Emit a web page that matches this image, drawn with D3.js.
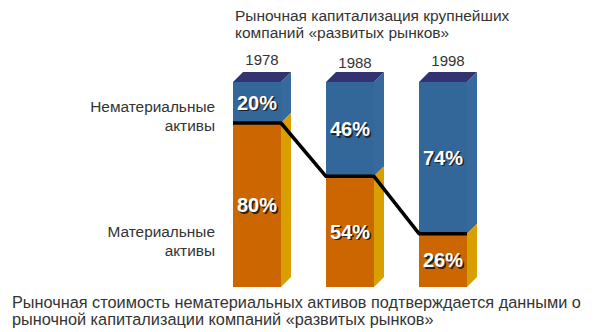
<!DOCTYPE html>
<html>
<head>
<meta charset="utf-8">
<script src="https://cdn.jsdelivr.net/npm/d3@7"></script>
<style>
  html, body { margin: 0; padding: 0; background: #fff; }
  svg { display: block; font-family: "Liberation Sans", Arial, sans-serif; }
</style>
</head>
<body>
<svg id="chart" width="600" height="332"></svg>
<script>
// Share of intangible vs tangible assets in market capitalisation
const years = ["1978", "1988", "1998"];
const intangible = [20, 46, 74];
const tangible = [80, 54, 26];
const titleLines = ["Рыночная капитализация крупнейших", "компаний «развитых рынков»"];
const intangibleLabel = ["Нематериальные", "активы"];
const tangibleLabel = ["Материальные", "активы"];
const footnote = [
  "Рыночная стоимость нематериальных активов подтверждается данными о",
  "рыночной капитализации компаний «развитых рынков»"
];

const colors = {
  blue: "#336699",
  blueSide: "#36699c",
  top: "#333372",
  orange: "#cc6600",
  orangeSide: "#d99e00",
  text: "#333333"
};

const svg = d3.select("#chart");
const depth = 10;

const x = d3.scaleBand().domain(years).range([233, 467]).paddingInner(0.484).paddingOuter(0);
const y = d3.scaleLinear().domain([0, 100]).range([287, 82]);
const w = x.bandwidth();

const data = years.map((yr, i) => ({
  year: yr,
  tangible: tangible[i],
  intangible: intangible[i]
}));

const bars = svg.append("g").selectAll("g").data(data).join("g");

// intangible segment side (blue)
bars.append("polygon")
  .attr("fill", colors.blueSide)
  .attr("points", d => {
    const x1 = x(d.year) + w, yt = y(100), yb = y(d.tangible);
    return [[x1, yt], [x1 + depth, yt - depth], [x1 + depth, yb - depth], [x1, yb]].join(" ");
  });

// tangible segment side (gold)
bars.append("polygon")
  .attr("fill", colors.orangeSide)
  .attr("points", d => {
    const x1 = x(d.year) + w, yt = y(d.tangible), yb = y(0);
    return [[x1, yt], [x1 + depth, yt - depth], [x1 + depth, yb - depth], [x1, yb]].join(" ");
  });

// top face
bars.append("polygon")
  .attr("fill", colors.top)
  .attr("points", d => {
    const x0 = x(d.year), x1 = x0 + w, yt = y(100);
    return [[x0, yt], [x0 + depth, yt - depth], [x1 + depth, yt - depth], [x1, yt]].join(" ");
  });

// front faces
bars.append("rect")
  .attr("x", d => x(d.year)).attr("width", w)
  .attr("y", y(100)).attr("height", d => y(d.tangible) - y(100))
  .attr("fill", colors.blue);

bars.append("rect")
  .attr("x", d => x(d.year)).attr("width", w)
  .attr("y", d => y(d.tangible)).attr("height", d => y(0) - y(d.tangible))
  .attr("fill", colors.orange);

// boundary line between intangible and tangible shares
const linePts = [];
data.forEach(d => {
  linePts.push([x(d.year), y(d.tangible)]);
  linePts.push([x(d.year) + w, y(d.tangible)]);
});
svg.append("path")
  .attr("d", d3.line()(linePts))
  .attr("fill", "none")
  .attr("stroke", "#000")
  .attr("stroke-width", 3.5)
  .attr("stroke-linejoin", "round");

// value labels with a dark drop shadow
function valueLabel(cx, cy, txt) {
  const g = svg.append("g").attr("font-size", 20).attr("font-weight", "bold")
    .attr("text-anchor", "middle").attr("dominant-baseline", "central");
  g.append("text").attr("x", cx + 1.5).attr("y", cy + 1.5).attr("fill", "#222").text(txt);
  g.append("text").attr("x", cx).attr("y", cy).attr("fill", "#fff").text(txt);
}
data.forEach(d => {
  const cx = x(d.year) + w / 2;
  valueLabel(cx, (y(100) + y(d.tangible)) / 2, d.intangible + "%");
  valueLabel(cx, (y(d.tangible) + y(0)) / 2, d.tangible + "%");
});

// year labels
svg.append("g").selectAll("text").data(years).join("text")
  .attr("x", d => x(d) + (w + depth) / 2)
  .attr("y", (d, i) => [65, 68, 66][i])
  .attr("text-anchor", "middle")
  .attr("font-size", 15)
  .attr("fill", colors.text)
  .text(d => d);

// title
svg.append("g").selectAll("text").data(titleLines).join("text")
  .attr("x", 235).attr("y", (d, i) => 21 + i * 16.5)
  .attr("font-size", 15.5).attr("fill", colors.text)
  .text(d => d);

// row labels
function rowLabel(lines, y0) {
  svg.append("g").selectAll("text").data(lines).join("text")
    .attr("x", 215).attr("y", (d, i) => y0 + i * 19)
    .attr("text-anchor", "end")
    .attr("font-size", 15.4).attr("fill", colors.text)
    .text(d => d);
}
rowLabel(intangibleLabel, 112);
rowLabel(tangibleLabel, 237);

// footnote
svg.append("g").selectAll("text").data(footnote).join("text")
  .attr("x", 12).attr("y", (d, i) => 308 + i * 17)
  .attr("font-size", 16.3).attr("fill", colors.text)
  .text(d => d);
</script>
</body>
</html>
